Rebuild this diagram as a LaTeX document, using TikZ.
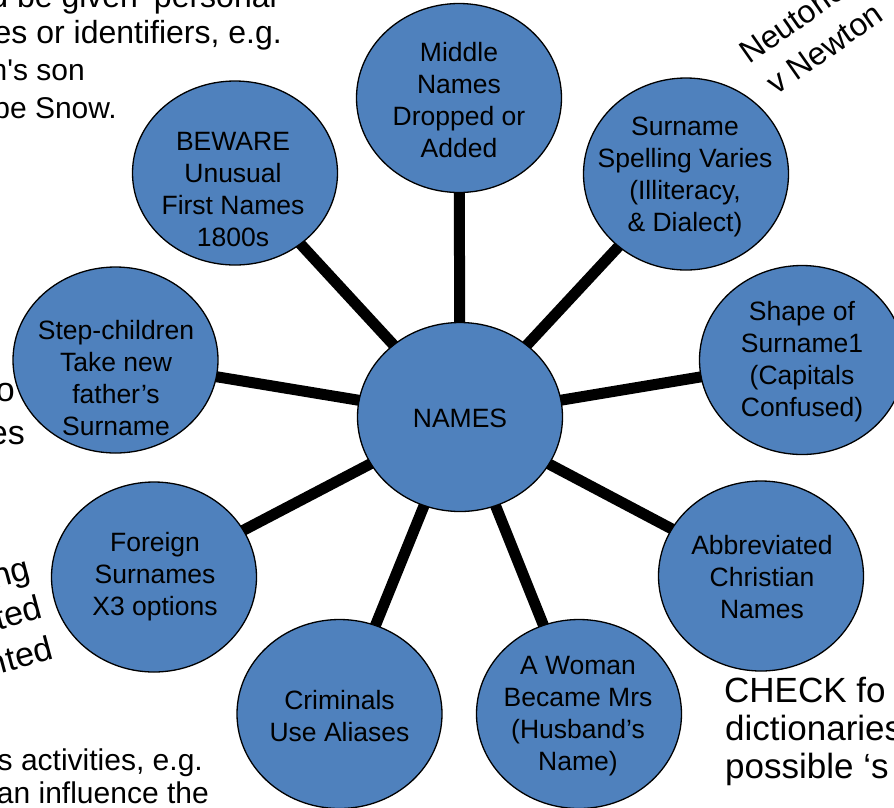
\documentclass[tikz,border=0pt]{standalone}
\usepackage{fontspec}
\setmainfont{Liberation Sans}
\usetikzlibrary{shapes.geometric,backgrounds}
\definecolor{bub}{HTML}{4F81BD}
\begin{document}
\begin{tikzpicture}[x=1pt,y=-1pt,
  bubble/.style={ellipse, draw=black, line width=1.3pt, fill=bub, inner sep=0pt, minimum width=205pt, minimum height=189pt},
  btext/.style={align=center, font=\fontsize{26.5}{32}\selectfont, inner sep=0pt},
  fragA/.style={inner sep=0pt, font=\fontsize{32}{38}\selectfont},
  fragA2/.style={inner sep=0pt, font=\fontsize{30}{38}\selectfont},
  fragB/.style={inner sep=0pt, font=\fontsize{34}{40}\selectfont},
  fragC/.style={inner sep=0pt, font=\fontsize{30}{36}\selectfont},
  fragD/.style={inner sep=0pt, font=\fontsize{32}{38}\selectfont},
  fragE/.style={inner sep=0pt, font=\fontsize{35}{38}\selectfont},
  spoke/.style={line width=11pt, black}]
\useasboundingbox (0,0) rectangle (894,807);
\clip (0,0) rectangle (894,807);

% background text fragments
\node[fragA, anchor=base east] (t1) at (277,7) {d be given ‘personal};
\node[fragA, anchor=base east] (t2) at (282,43) {es or identifiers, e.g.};
\node[fragA2, anchor=base east] (t3) at (85,80) {n\textquotesingle s son};
\node[fragA2, anchor=base east] (t4) at (117,118) {be Snow.};
\node[fragB, anchor=base east] (l1) at (15,401) {o};
\node[fragB, anchor=base east] (l2) at (25,444) {es};
\node[fragB, anchor=base east, rotate=15] (r1) at (32,579) {ng};
\node[fragB, anchor=base east, rotate=15] (r2) at (44,618) {ted};
\node[fragB, anchor=base east, rotate=15] (r3) at (55,659) {nted};
\node[fragC, anchor=base east] (b1) at (203,770) {s activities, e.g.};
\node[fragC, anchor=base east] (b2) at (209,803) {an influence the};
\node[fragD, anchor=base west, rotate=35] (n1) at (749,65) {Neutoric};
\node[fragD, anchor=base west, rotate=35] (n2) at (776,96) {v Newton};
\node[fragE, anchor=base west] (c1) at (724,702) {CHECK fo};
\node[fragE, anchor=base west] (c2) at (725,740) {dictionaries};
\node[fragE, anchor=base west] (c3) at (725,778) {possible ‘s};

% bubbles
\node[bubble] (names) at (460,417) {};
\node[bubble] (mid) at (459,98) {};
\node[bubble, minimum height=192pt] (spell) at (686,174) {};
\node[bubble] (shape) at (802,360) {};
\node[bubble, minimum height=190pt] (abbr) at (761,576) {};
\node[bubble] (woman) at (579,714) {};
\node[bubble] (crim) at (339.5,714) {};
\node[bubble, minimum height=190pt] (foreign) at (154,577) {};
\node[bubble, minimum height=186pt] (step) at (115.5,360) {};
\node[bubble, minimum height=184pt] (beware) at (235,173) {};

\begin{scope}[on background layer]
\foreach \n in {mid,spell,shape,abbr,woman,crim,foreign,step,beware}
  \draw[spoke] (names.center) -- (\n.center);
\end{scope}

% labels
\node[btext] (names-t) at (460,418) {NAMES};
\node[btext] (mid-t) at (459,100) {Middle\\Names\\Dropped or\\Added};
\node[btext] (spell-t) at (685,177) {Surname\\Spelling Varies\\(Illiteracy,\\\& Dialect)};
\node[btext] (shape-t) at (802,362) {Shape of\\Surname1\\(Capitals\\Confused)};
\node[btext] (abbr-t) at (762,577) {Abbreviated\\Christian\\Names};
\node[btext] (woman-t) at (578,716) {A Woman\\Became Mrs\\(Husband’s\\Name)};
\node[btext] (crim-t) at (339.5,716) {Criminals\\Use Aliases};
\node[btext] (foreign-t) at (155,577) {Foreign\\Surnames\\X3 options};
\node[btext] (step-t) at (116,378) {Step-children\\Take new\\father’s\\Surname};
\node[btext] (beware-t) at (233,190) {BEWARE\\Unusual\\First Names\\1800s};
\end{tikzpicture}
\end{document}
